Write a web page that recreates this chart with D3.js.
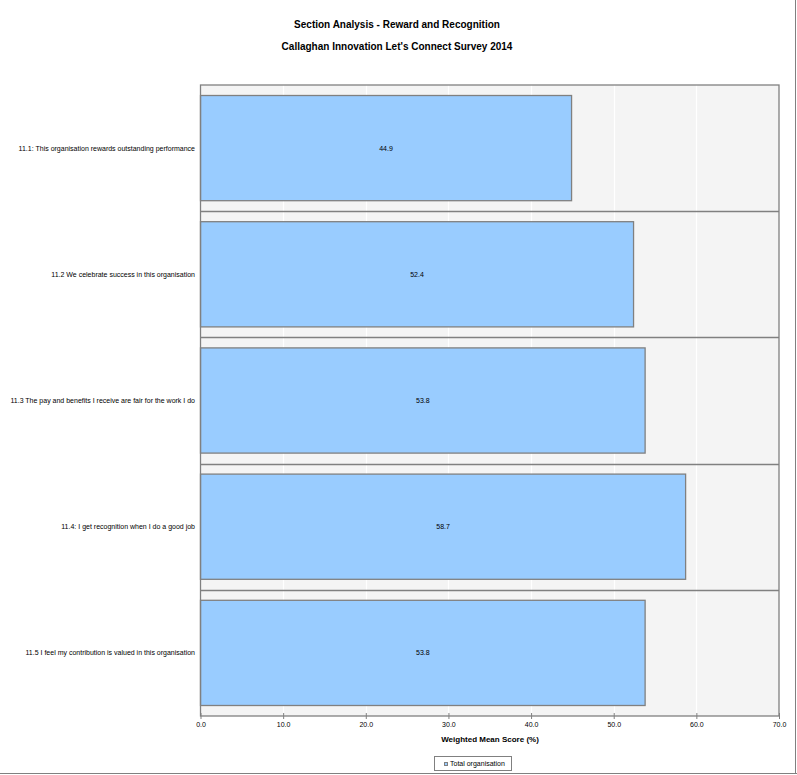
<!DOCTYPE html>
<html><head><meta charset="utf-8">
<script src="https://cdn.jsdelivr.net/npm/d3@7"></script>
<style>body{margin:0;background:#fff;}svg{display:block;font-family:"Liberation Sans",Arial,sans-serif;}</style>
</head><body>
<svg id="chart" width="797" height="775"></svg>
<script>
const categories = [
  "11.1: This organisation rewards outstanding performance",
  "11.2 We celebrate success in this organisation",
  "11.3 The pay and benefits I receive are fair for the work I do",
  "11.4: I get recognition when I do a good job",
  "11.5 I feel my contribution is valued in this organisation"
];
const values = [44.9, 52.4, 53.8, 58.7, 53.8];
const xTicks = [0, 10, 20, 30, 40, 50, 60, 70];
const seriesName = "Total organisation";

const svg = d3.select("#chart");
const L = 200.5, R = 779, T = 85, B = 716;
const x = d3.scaleLinear().domain([0, 70]).range([L, R]);
const y = d3.scaleBand().domain(categories).range([T, B]).paddingInner(0).paddingOuter(0);

// outer frame lines
svg.append("line").attr("x1", 0).attr("x2", 797).attr("y1", 773.5).attr("y2", 773.5).attr("stroke", "#808080").attr("stroke-width", 1);
svg.append("line").attr("x1", 795.5).attr("x2", 795.5).attr("y1", 0).attr("y2", 774).attr("stroke", "#808080").attr("stroke-width", 1);

// titles
svg.append("text").attr("x", 397).attr("y", 28).attr("text-anchor", "middle").attr("font-size", 10).attr("font-weight", "bold").text("Section Analysis - Reward and Recognition");
svg.append("text").attr("x", 397).attr("y", 50).attr("text-anchor", "middle").attr("font-size", 10).attr("font-weight", "bold").text("Callaghan Innovation Let's Connect Survey 2014");

// plot background
svg.append("rect").attr("x", L).attr("y", T).attr("width", R - L).attr("height", B - T).attr("fill", "#f4f4f4");

// gridlines
svg.append("g").selectAll("line").data(xTicks.slice(1, -1)).join("line")
  .attr("x1", d => Math.round(x(d)) + 0.5).attr("x2", d => Math.round(x(d)) + 0.5)
  .attr("y1", T).attr("y2", B).attr("stroke", "#ffffff").attr("stroke-width", 1.2);

// band separators
svg.append("g").selectAll("line").data(categories.slice(1)).join("line")
  .attr("x1", L).attr("x2", R)
  .attr("y1", d => Math.round(y(d)) + 0.5).attr("y2", d => Math.round(y(d)) + 0.5)
  .attr("stroke", "#808080").attr("stroke-width", 1.3);

// bars
const pad = 10.5;
svg.append("g").selectAll("rect").data(categories).join("rect")
  .attr("x", x(0)).attr("y", d => y(d) + pad)
  .attr("width", (d, i) => x(values[i]) - x(0))
  .attr("height", y.bandwidth() - 2 * pad)
  .attr("fill", "#99ccff").attr("stroke", "#808080").attr("stroke-width", 1.3);

// value labels
svg.append("g").selectAll("text").data(categories).join("text")
  .attr("x", (d, i) => (x(0) + x(values[i])) / 2)
  .attr("y", d => y(d) + y.bandwidth() / 2 + 2.5)
  .attr("text-anchor", "middle").attr("font-size", 7).attr("fill", "#000")
  .text((d, i) => values[i].toFixed(1));

// category labels
svg.append("g").selectAll("text").data(categories).join("text")
  .attr("x", 195).attr("y", d => y(d) + y.bandwidth() / 2 + 2.5)
  .attr("text-anchor", "end").attr("font-size", 7).attr("fill", "#000")
  .text(d => d);

// plot border
svg.append("rect").attr("x", L).attr("y", T).attr("width", R - L).attr("height", B - T)
  .attr("fill", "none").attr("stroke", "#808080").attr("stroke-width", 1.3);

// x axis
const xAxis = d3.axisBottom(x).tickValues(xTicks).tickFormat(d3.format(".1f")).tickSize(3).tickSizeOuter(0);
const ax = svg.append("g").attr("transform", `translate(0,${B})`).call(xAxis);
ax.select(".domain").remove();
ax.selectAll(".tick line").attr("stroke", "#808080").attr("y1", -3).attr("y2", 3);
ax.selectAll(".tick text").attr("font-size", 7).attr("font-family", "Liberation Sans, Arial, sans-serif").attr("fill", "#000").attr("dy", 0).attr("y", 11);

svg.append("text").attr("x", 490).attr("y", 742).attr("text-anchor", "middle").attr("font-size", 8).attr("font-weight", "bold").text("Weighted Mean Score (%)");

// legend
const lg = svg.append("g");
lg.append("rect").attr("x", 434.5).attr("y", 756.5).attr("width", 77).attr("height", 14).attr("fill", "#fff").attr("stroke", "#808080").attr("stroke-width", 1);
lg.append("rect").attr("x", 444.5).attr("y", 762.5).attr("width", 3).attr("height", 3).attr("fill", "#99ccff").attr("stroke", "#808080").attr("stroke-width", 1);
lg.append("text").attr("x", 450).attr("y", 766).attr("font-size", 7).attr("fill", "#000").text(seriesName);
</script>
</body></html>
